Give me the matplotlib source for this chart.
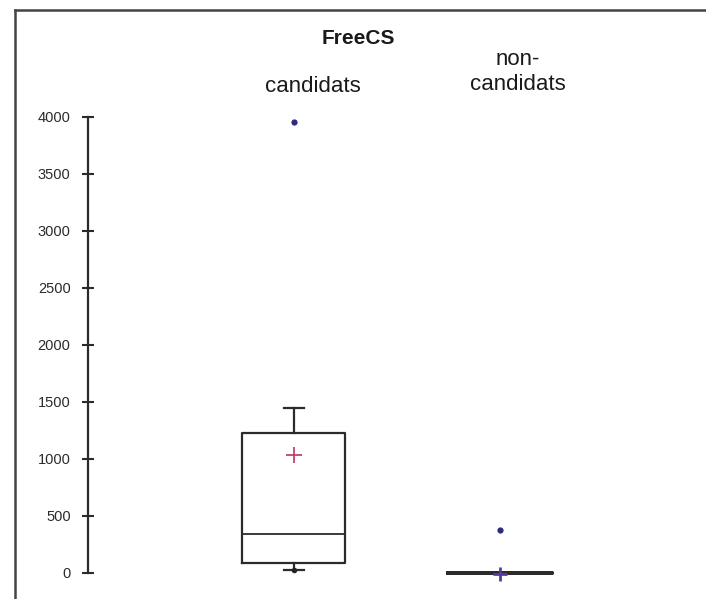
import numpy as np
import matplotlib.pyplot as plt
from matplotlib.lines import Line2D

plt.rcParams['font.family'] = ['Liberation Sans', 'DejaVu Sans']

# values
groups = ['candidats', 'non-\ncandidats']
q1 = [88, 0]
med = [342, 0]
q3 = [1228, 0]
whislo = [26, 0]
whishi = [1447, 0]
means = [1035, -5]
fliers = [[3956], [375]]
low_dots = [26]
yticks = [0, 500, 1000, 1500, 2000, 2500, 3000, 3500, 4000]

fig = plt.figure(figsize=(7.06, 5.99), dpi=100)
ax = fig.add_axes([0.1246, 0.0244, 0.7587, 0.790])

stats = []
for i in range(2):
    stats.append({'med': med[i], 'q1': q1[i], 'q3': q3[i],
                  'whislo': whislo[i], 'whishi': whishi[i],
                  'fliers': []})

pos = [1, 2]
bp = ax.bxp(stats, positions=pos, widths=0.5, capwidths=[0.1, 0.0],
            showfliers=False,
            boxprops=dict(color='#2b2b2b', lw=1.6),
            medianprops=dict(color='#2b2b2b', lw=1.3),
            whiskerprops=dict(color='#2b2b2b', lw=1.6),
            capprops=dict(color='#2b2b2b', lw=1.6))
# the flat box of the second group is drawn as a heavy line
bp['boxes'][1].set_linewidth(2.8)
bp['medians'][1].set_linewidth(2.8)

# outliers
for i in range(2):
    ax.plot([pos[i]] * len(fliers[i]), fliers[i], 'o', color='#2e2a80',
            ms=4.5, mec='none')
ax.plot([pos[0]] * len(low_dots), low_dots, 'o', color='#222222', ms=4, mec='none')

# means
ax.plot(pos[0], means[0], '+', color='#c8406a', ms=11, mew=1.3, zorder=5)
ax.plot(pos[1], means[1], '+', color='#5a3aa0', ms=10, mew=2, zorder=5)

ax.set_xlim(0, 2.6)
ax.set_ylim(-100, 4050)
ax.set_yticks(yticks)
ax.set_yticklabels([str(t) for t in yticks], fontsize=10.5, color='#2b2b2b')
ax.tick_params(axis='y', direction='inout', length=9, width=1.5, pad=8,
               color='#2b2b2b')
ax.set_xticks([])
for s in ['top', 'right', 'bottom']:
    ax.spines[s].set_visible(False)
ax.spines['left'].set_bounds(0, 4000)
ax.spines['left'].set_linewidth(1.6)
ax.spines['left'].set_color('#2b2b2b')

# title and group labels
fig.text(358 / 706, 1 - 39 / 599, 'FreeCS', ha='center', va='center',
         fontsize=15, fontweight='bold', color='#1a1a1a')
fig.text(313 / 706, 1 - 86 / 599, groups[0], ha='center', va='center',
         fontsize=16, color='#1a1a1a')
fig.text(518 / 706, 1 - 72 / 599, groups[1], ha='center', va='center',
         fontsize=16, color='#1a1a1a', linespacing=1.3)

# page frame lines from the scan
fig.add_artist(Line2D([15 / 706, 15 / 706], [0, 1 - 10 / 599],
                      color='#444444', lw=1.8))
fig.add_artist(Line2D([15 / 706, 1], [1 - 10 / 599, 1 - 10 / 599],
                      color='#444444', lw=1.8))

fig.savefig('out.png', dpi=100)
